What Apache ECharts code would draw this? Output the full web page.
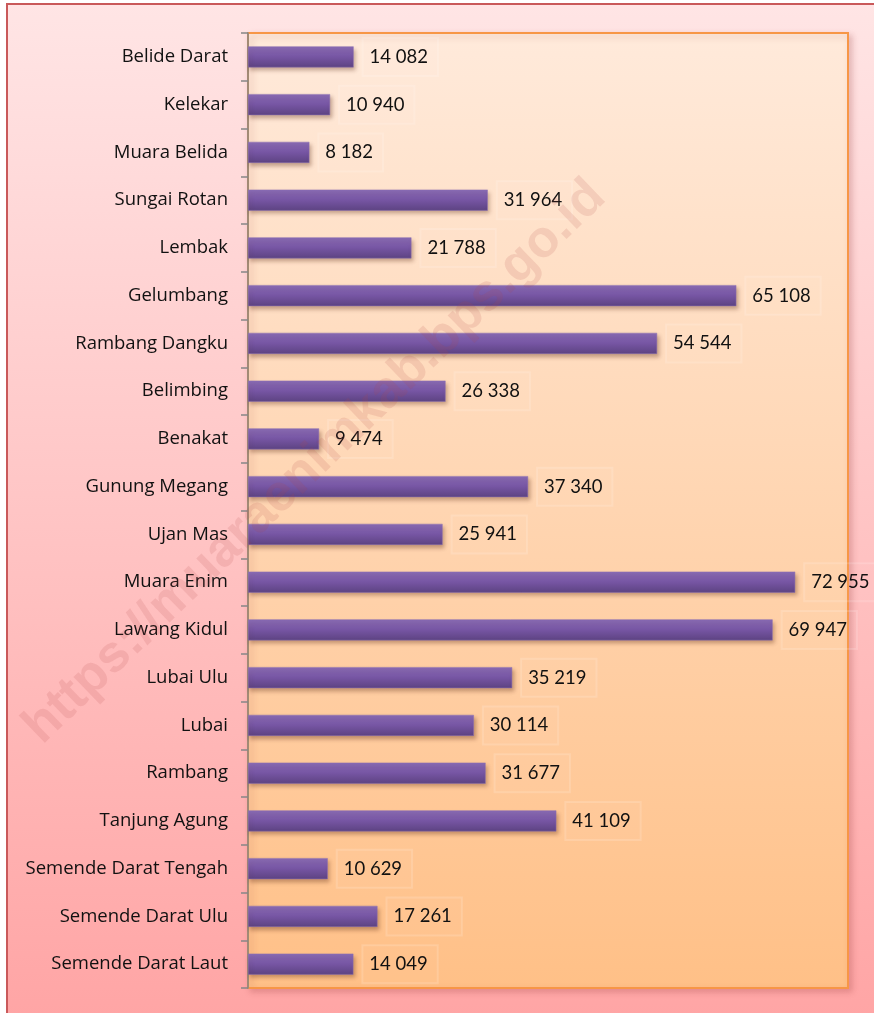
<!DOCTYPE html>
<html>
<head>
<meta charset="utf-8">
<script src="https://cdn.jsdelivr.net/npm/echarts@6/dist/echarts.min.js"></script>
<style>
  html, body { margin: 0; padding: 0; background: #ffffff; }
  #chart { width: 874px; height: 1013px; }
</style>
</head>
<body>
<div id="chart"></div>
<script>
// kecamatan, dari atas ke bawah
var categories = [
  'Belide Darat', 'Kelekar', 'Muara Belida', 'Sungai Rotan', 'Lembak',
  'Gelumbang', 'Rambang Dangku', 'Belimbing', 'Benakat', 'Gunung Megang',
  'Ujan Mas', 'Muara Enim', 'Lawang Kidul', 'Lubai Ulu', 'Lubai',
  'Rambang', 'Tanjung Agung', 'Semende Darat Tengah', 'Semende Darat Ulu', 'Semende Darat Laut'
];
var values = [
  14082, 10940, 8182, 31964, 21788,
  65108, 54544, 26338, 9474, 37340,
  25941, 72955, 69947, 35219, 30114,
  31677, 41109, 10629, 17261, 14049
];
var watermark = 'https://muaraenimkab.bps.go.id';

var chart = echarts.init(document.getElementById('chart'));

// format angka pakai spasi: 14 082
function fmt(v) {
  return String(v).replace(/\B(?=(\d{3})+(?!\d))/g, ' ');
}

var option = {
  animation: false,
  backgroundColor: '#ffffff',
  graphic: [
    {
      type: 'rect',
      z: -10,
      shape: { x: 7, y: 4, width: 900, height: 1060 },
      style: {
        fill: new echarts.graphic.LinearGradient(0, 0, 0, 1, [
          { offset: 0, color: '#FFE5E5' },
          { offset: 1, color: '#FFA2A2' }
        ]),
        stroke: '#C9595A',
        lineWidth: 2
      }
    },
    {
      type: 'text',
      z: 100,
      x: 315,
      y: 462,
      rotation: 44 * Math.PI / 180,
      style: {
        text: watermark,
        font: 'bold 52px "Liberation Sans", Arial, sans-serif',
        fill: 'rgba(180, 70, 70, 0.14)',
        textAlign: 'center',
        textVerticalAlign: 'middle'
      }
    }
  ],
  grid: {
    left: 248,
    right: 26,
    top: 33,
    bottom: 25,
    show: true,
    backgroundColor: new echarts.graphic.LinearGradient(0, 0, 0, 1, [
      { offset: 0, color: '#FFEADB' },
      { offset: 1, color: '#FFC087' }
    ]),
    borderColor: '#F79646',
    borderWidth: 2,
    shadowColor: 'rgba(150, 60, 60, 0.25)',
    shadowBlur: 6,
    shadowOffsetX: 3,
    shadowOffsetY: 3
  },
  xAxis: {
    type: 'value',
    min: 0,
    max: 80000,
    show: false
  },
  yAxis: {
    type: 'category',
    inverse: true,
    data: categories,
    axisLine: { show: true, lineStyle: { color: '#868686', width: 1.5 } },
    axisTick: { show: true, length: 7, lineStyle: { color: '#868686', width: 1.5 } },
    axisLabel: {
      margin: 20,
      color: '#111111',
      fontSize: 18.5,
      fontFamily: '"Open Sans", sans-serif'
    },
    splitLine: { show: false }
  },
  series: [
    {
      type: 'bar',
      data: values,
      barWidth: 21,
      itemStyle: {
        color: new echarts.graphic.LinearGradient(0, 0, 0, 1, [
          { offset: 0, color: '#8A6CB6' },
          { offset: 0.5, color: '#7655A3' },
          { offset: 1, color: '#5D4382' }
        ]),
        borderColor: '#8B70B4',
        borderWidth: 0.5,
        shadowColor: 'rgba(90, 40, 20, 0.35)',
        shadowBlur: 4,
        shadowOffsetX: 2,
        shadowOffsetY: 3
      },
      label: {
        show: true,
        position: 'right',
        distance: 9,
        color: '#111111',
        fontSize: 18.5,
        fontFamily: 'Lato, sans-serif',
        padding: [10, 10, 9, 7],
        backgroundColor: 'rgba(255, 255, 255, 0.03)',
        borderColor: 'rgba(255, 255, 255, 0.15)',
        borderWidth: 1,
        formatter: function (p) { return fmt(p.value); }
      }
    }
  ]
};

chart.setOption(option);
</script>
</body>
</html>
